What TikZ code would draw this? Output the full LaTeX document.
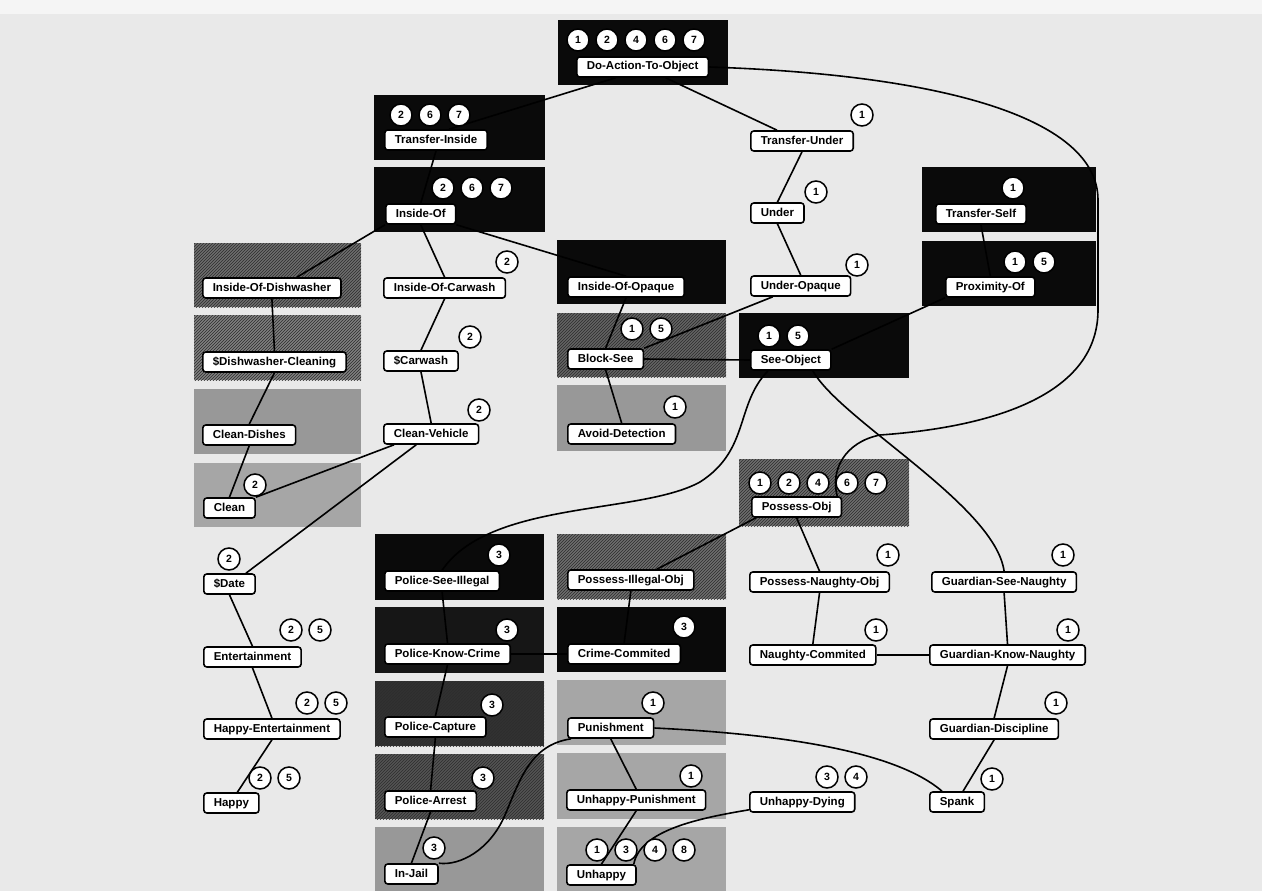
\documentclass[tikz,border=0pt]{standalone}
\usepackage{fontspec}
\setmainfont{Liberation Sans}
\usepackage{xcolor}
\usetikzlibrary{patterns}
\definecolor{pagegray}{RGB}{233,233,233}
\definecolor{pagetop}{RGB}{245,245,245}
\definecolor{regblack}{RGB}{10,10,10}
\definecolor{regknow}{RGB}{22,22,22}
\definecolor{regcapture}{RGB}{50,50,50}
\definecolor{regarrest}{RGB}{84,84,84}
\definecolor{reghatch}{RGB}{110,110,110}
\definecolor{reghatchlight}{RGB}{128,128,128}
\definecolor{regblock}{RGB}{100,100,100}
\definecolor{regmid}{RGB}{152,152,152}
\definecolor{reglight}{RGB}{166,166,166}
\definecolor{hatchline}{RGB}{45,45,45}

\newcommand{\badgerow}[4]{%
  \foreach \n [count=\i from 0] in {#4}
    \node[badge] (#1-\n) at ({#2+29*\i},#3) {\n};}

\begin{document}
\begin{tikzpicture}[x=1pt, y=-1pt,
    concept/.style={rectangle, draw, fill=white, line width=1.6pt, rounded corners=3pt, anchor=west,
        inner xsep=10pt, inner ysep=0pt, minimum height=20pt, text height=8.5pt, text depth=2.5pt,
        font=\bfseries\fontsize{11.5}{13}\selectfont},
    badge/.style={circle, draw, fill=white, line width=1.5pt, minimum size=22pt, inner sep=0pt,
        font=\bfseries\fontsize{10.5}{12}\selectfont},
    link/.style={line width=1.6pt},
    hatched/.style={postaction={pattern=north east lines, pattern color=hatchline}}
]
\useasboundingbox (0,0) rectangle (1262,891);

% Page
\fill[pagegray] (0,0) rectangle (1262,891);
\fill[pagetop] (0,0) rectangle (1262,14);

% Shaded regions
\fill[regblack] (558,20) rectangle (728,85);
\fill[regblack] (374,95) rectangle (545,160);
\fill[regblack] (374,167) rectangle (545,232);
\fill[reghatch, hatched] (194,243) rectangle (361,307);
\fill[reghatchlight, hatched] (194,315) rectangle (361,380);
\fill[regmid] (194,389) rectangle (361,454);
\fill[reglight] (194,463) rectangle (361,527);
\fill[regblack] (557,240) rectangle (726,304);
\fill[regblock, hatched] (557,313) rectangle (726,377);
\fill[regmid] (557,385) rectangle (726,451);
\fill[regblack] (922,167) rectangle (1096,232);
\fill[regblack] (922,241) rectangle (1096,306);
\fill[regblack] (739,313) rectangle (909,378);
\fill[reghatch, hatched] (739,459) rectangle (909,526);
\fill[regblack] (375,534) rectangle (544,600);
\fill[regknow] (375,607) rectangle (544,673);
\fill[regcapture, hatched] (375,681) rectangle (544,746);
\fill[regarrest, hatched] (375,754) rectangle (544,819);
\fill[regmid] (375,827) rectangle (544,891);
\fill[reghatch, hatched] (557,534) rectangle (726,599);
\fill[regblack] (557,607) rectangle (726,672);
\fill[reglight] (557,680) rectangle (726,745);
\fill[reglight] (557,753) rectangle (726,819);
\fill[reglight] (557,827) rectangle (726,891);

% Concepts
\node[concept] (doaction) at (576,67) {Do-Action-To-Object};
\node[concept] (transferinside) at (384,140) {Transfer-Inside};
\node[concept] (insideof) at (385,214) {Inside-Of};
\node[concept] (dishwasher) at (202,288) {Inside-Of-Dishwasher};
\node[concept] (dishclean) at (202,362) {\$Dishwasher-Cleaning};
\node[concept] (cleandishes) at (202,435) {Clean-Dishes};
\node[concept] (clean) at (203,508) {Clean};
\node[concept] (carwash) at (383,288) {Inside-Of-Carwash};
\node[concept] (scarwash) at (383,361) {\$Carwash};
\node[concept] (cleanvehicle) at (383,434) {Clean-Vehicle};
\node[concept] (opaque) at (567,287) {Inside-Of-Opaque};
\node[concept] (blocksee) at (567,359) {Block-See};
\node[concept] (avoid) at (567,434) {Avoid-Detection};
\node[concept] (transferunder) at (750,141) {Transfer-Under};
\node[concept] (under) at (750,213) {Under};
\node[concept] (underopaque) at (750,286) {Under-Opaque};
\node[concept] (transferself) at (935,214) {Transfer-Self};
\node[concept] (proximity) at (945,287) {Proximity-Of};
\node[concept] (seeobject) at (750,360) {See-Object};
\node[concept] (possessobj) at (751,507) {Possess-Obj};
\node[concept] (possessnaughty) at (749,582) {Possess-Naughty-Obj};
\node[concept] (guardiansee) at (931,582) {Guardian-See-Naughty};
\node[concept] (naughtycom) at (749,655) {Naughty-Commited};
\node[concept] (guardianknow) at (929,655) {Guardian-Know-Naughty};
\node[concept] (guardiandisc) at (929,729) {Guardian-Discipline};
\node[concept] (spank) at (929,802) {Spank};
\node[concept] (unhappydying) at (749,802) {Unhappy-Dying};
\node[concept] (policesee) at (384,581) {Police-See-Illegal};
\node[concept] (policeknow) at (384,654) {Police-Know-Crime};
\node[concept] (policecapture) at (384,727) {Police-Capture};
\node[concept] (policearrest) at (384,801) {Police-Arrest};
\node[concept] (injail) at (384,874) {In-Jail};
\node[concept] (possessillegal) at (567,580) {Possess-Illegal-Obj};
\node[concept] (crimecom) at (567,654) {Crime-Commited};
\node[concept] (punishment) at (567,728) {Punishment};
\node[concept] (unhappypun) at (566,800) {Unhappy-Punishment};
\node[concept] (unhappy) at (566,875) {Unhappy};
\node[concept] (sdate) at (203,584) {\$Date};
\node[concept] (entertainment) at (203,657) {Entertainment};
\node[concept] (happyent) at (203,729) {Happy-Entertainment};
\node[concept] (happy) at (203,803) {Happy};

% Links
\draw[link] ([xshift=-27pt]doaction.south) -- ([xshift=13pt]transferinside.north);
\draw[link] ([xshift=23pt]doaction.south) -- ([xshift=-25pt]transferunder.north);
\draw[link] (doaction.east) .. controls (950,75) and (1098,120) .. (1098,200) -- (1098,310)
    .. controls (1098,400) and (980,428) .. (880,435)
    .. controls (845,442) and (830,470) .. ([xshift=-5pt]possessobj.north east);
\draw[link] (transferinside.south) -- (insideof.north);
\draw[link] (insideof.south west) -- ([xshift=25pt]dishwasher.north);
\draw[link] (insideof.south) -- (carwash.north);
\draw[link] (insideof.south east) -- (opaque.north);
\draw[link] (dishwasher.south) -- (dishclean.north);
\draw[link] (dishclean.south) -- (cleandishes.north);
\draw[link] (cleandishes.south) -- (clean.north);
\draw[link] (carwash.south) -- (scarwash.north);
\draw[link] (scarwash.south) -- (cleanvehicle.north);
\draw[link] ([xshift=11pt]cleanvehicle.south west) -- (clean.north east);
\draw[link] ([xshift=-15pt]cleanvehicle.south) -- ([xshift=-10pt]sdate.north east);
\draw[link] (opaque.south) -- (blocksee.north);
\draw[link] ([xshift=-28pt]underopaque.south) -- (blocksee.north east);
\draw[link] (blocksee.east) -- (seeobject.west);
\draw[link] (blocksee.south) -- (avoid.north);
\draw[link] (transferunder.south) -- (under.north);
\draw[link] (under.south) -- (underopaque.north);
\draw[link] (transferself.south) -- (proximity.north);
\draw[link] (proximity.south west) -- (seeobject.north east);
\draw[link] ([xshift=18pt]seeobject.south west) .. controls (735,405) and (750,450) .. (700,482)
    .. controls (640,515) and (490,500) .. (policesee.north);
\draw[link] ([xshift=22pt]seeobject.south) .. controls (840,420) and (995,505) .. (guardiansee.north);
\draw[link] ([xshift=5pt]possessobj.south west) -- ([xshift=26pt]possessillegal.north);
\draw[link] (possessobj.south) -- (possessnaughty.north);
\draw[link] (guardiansee.south) -- (guardianknow.north);
\draw[link] (possessnaughty.south) -- (naughtycom.north);
\draw[link] (naughtycom.east) -- (guardianknow.west);
\draw[link] (guardianknow.south) -- (guardiandisc.north);
\draw[link] (guardiandisc.south) -- ([xshift=6pt]spank.north);
\draw[link] (punishment.east) .. controls (800,735) and (900,755) .. ([xshift=-15pt]spank.north);
\draw[link] (punishment.south) -- (unhappypun.north);
\draw[link] (unhappypun.south) -- (unhappy.north);
\draw[link] ([yshift=3pt]unhappydying.south west) .. controls (700,818) and (640,830) .. ([xshift=-3pt]unhappy.north east);
\draw[link] ([xshift=4pt]punishment.south west) .. controls (530,745) and (520,780) .. (505,815)
    .. controls (490,850) and (460,866) .. (injail.north east);
\draw[link] (policesee.south) -- (policeknow.north);
\draw[link] (policeknow.east) -- (crimecom.west);
\draw[link] (policeknow.south) -- (policecapture.north);
\draw[link] (policecapture.south) -- (policearrest.north);
\draw[link] (policearrest.south) -- (injail.north);
\draw[link] (possessillegal.south) -- (crimecom.north);
\draw[link] (sdate.south) -- (entertainment.north);
\draw[link] (entertainment.south) -- (happyent.north);
\draw[link] (happyent.south) -- ([xshift=6pt]happy.north);

% Episode badges
\badgerow{doaction}{578}{40}{1,2,4,6,7}
\badgerow{transferinside}{401}{115}{2,6,7}
\badgerow{insideof}{443}{188}{2,6,7}
\badgerow{carwash}{507}{262}{2}
\badgerow{scarwash}{470}{337}{2}
\badgerow{cleanvehicle}{479}{410}{2}
\badgerow{clean}{255}{485}{2}
\badgerow{blocksee}{632}{329}{1,5}
\badgerow{avoid}{675}{407}{1}
\badgerow{transferunder}{862}{115}{1}
\badgerow{under}{816}{192}{1}
\badgerow{underopaque}{857}{265}{1}
\badgerow{transferself}{1013}{188}{1}
\badgerow{proximity}{1015}{262}{1,5}
\badgerow{seeobject}{769}{336}{1,5}
\badgerow{possessobj}{760}{483}{1,2,4,6,7}
\badgerow{possessnaughty}{888}{555}{1}
\badgerow{guardiansee}{1063}{555}{1}
\badgerow{naughtycom}{876}{630}{1}
\badgerow{guardianknow}{1068}{630}{1}
\badgerow{guardiandisc}{1056}{703}{1}
\badgerow{spank}{992}{779}{1}
\badgerow{unhappydying}{827}{777}{3,4}
\badgerow{policesee}{499}{555}{3}
\badgerow{policeknow}{507}{630}{3}
\badgerow{policecapture}{492}{705}{3}
\badgerow{policearrest}{483}{778}{3}
\badgerow{injail}{434}{848}{3}
\badgerow{crimecom}{684}{627}{3}
\badgerow{punishment}{653}{703}{1}
\badgerow{unhappypun}{691}{776}{1}
\badgerow{unhappy}{597}{850}{1,3,4,8}
\badgerow{sdate}{229}{559}{2}
\badgerow{entertainment}{291}{630}{2,5}
\badgerow{happyent}{307}{703}{2,5}
\badgerow{happy}{260}{778}{2,5}

\end{tikzpicture}
\end{document}
